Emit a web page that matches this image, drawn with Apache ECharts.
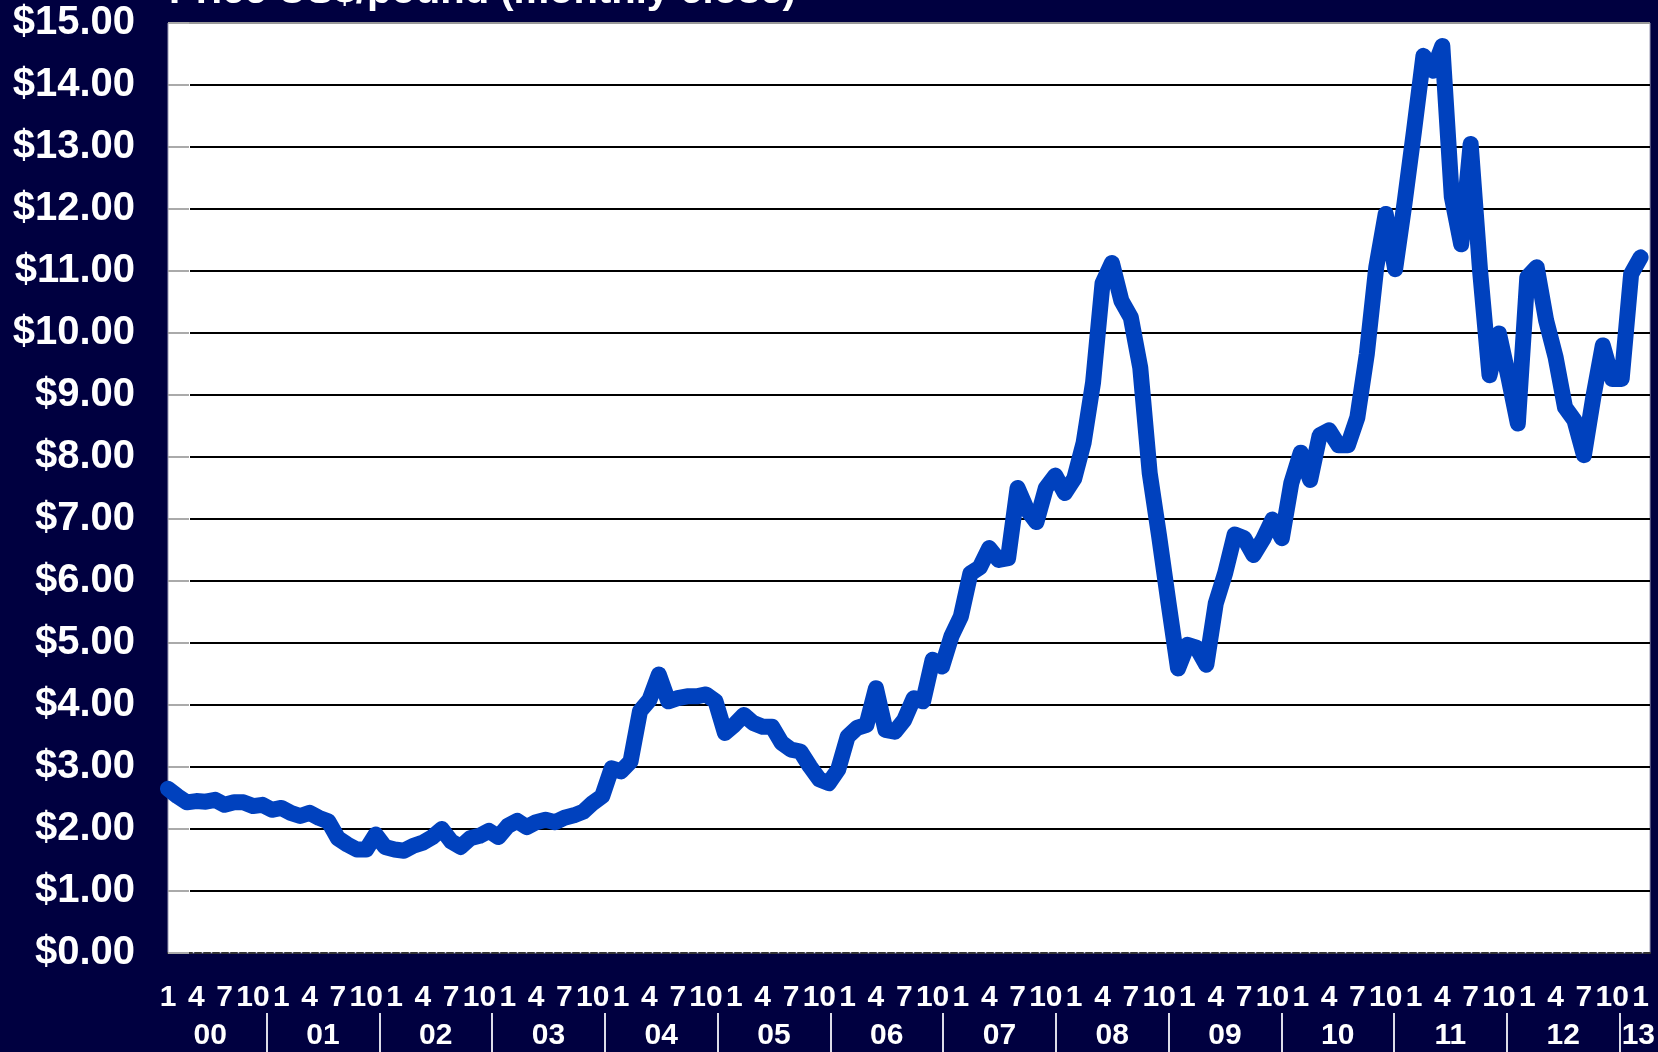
<!DOCTYPE html>
<html>
<head>
<meta charset="utf-8">
<script src="https://cdn.jsdelivr.net/npm/echarts@6/dist/echarts.min.js"></script>
<style>
  html, body { margin: 0; padding: 0; background: #000040; }
  #chart { width: 1658px; height: 1052px; }
</style>
</head>
<body>
<div id="chart"></div>
<script>
// monthly close, US$/pound, Jan 2000 .. Jan 2013
var monthValues = [
    2.65, 2.53, 2.43, 2.45, 2.44, 2.47, 2.39, 2.43, 2.43, 2.37, 2.39, 2.31,
    2.34, 2.26, 2.21, 2.26, 2.18, 2.12, 1.85, 1.75, 1.67, 1.67, 1.91, 1.71,
    1.67, 1.65, 1.73, 1.78, 1.87, 2.00, 1.80, 1.71, 1.85, 1.89, 1.97, 1.87,
    2.05, 2.13, 2.03, 2.11, 2.15, 2.11, 2.18, 2.22, 2.28, 2.42, 2.53, 2.98,
    2.93, 3.09, 3.90, 4.08, 4.49, 4.06, 4.11, 4.14, 4.14, 4.17, 4.06, 3.55,
    3.68, 3.84, 3.71, 3.65, 3.65, 3.39, 3.28, 3.25, 3.01, 2.80, 2.74, 2.96,
    3.49, 3.63, 3.68, 4.27, 3.60, 3.57, 3.76, 4.11, 4.06, 4.73, 4.62, 5.11,
    5.43, 6.12, 6.22, 6.53, 6.34, 6.37, 7.50, 7.15, 6.95, 7.50, 7.70, 7.42,
    7.65, 8.23, 9.20, 10.80, 11.13, 10.52, 10.25, 9.44, 7.74, 6.72, 5.64, 4.59,
    4.97, 4.92, 4.65, 5.64, 6.13, 6.75, 6.69, 6.42, 6.67, 6.99, 6.69, 7.58,
    8.07, 7.63, 8.35, 8.43, 8.19, 8.19, 8.64, 9.66, 11.06, 11.92, 11.03, 12.10,
    13.26, 14.47, 14.23, 14.63, 12.20, 11.43, 13.05, 11.00, 9.32, 9.99, 9.29, 8.54,
    10.90, 11.06, 10.20, 9.61, 8.80, 8.59, 8.03, 8.97, 9.80, 9.26, 9.26, 10.95,
    11.22
];
var monthTicks = ['1', '4', '7', '10'];
var yearLabels = ['00', '01', '02', '03', '04', '05', '06', '07', '08', '09', '10', '11', '12', '13'];
var yMin = 0, yMax = 15, yStep = 1;
var xMax = 157;

var FONT = '"Liberation Sans", Arial, sans-serif';

// year row: half-month category axis in its own strip under the month labels
function yearPos(k) {
    return Math.min(4.5 + 12 * k, xMax - 0.5);
}
var yearCats = [];
for (var h = 0; h <= xMax * 2; h++) {
    var p = h / 2, lab = '';
    for (var k = 0; k < yearLabels.length; k++) {
        if (yearPos(k) === p) lab = yearLabels[k];
    }
    yearCats.push(lab);
}

var chart = echarts.init(document.getElementById('chart'));
var option = {
    animation: false,
    backgroundColor: '#000040',
    title: {
        text: 'Price US$/pound (monthly close)',
        left: 164,
        top: -33,
        textStyle: { color: '#fff', fontSize: 40, fontWeight: 'bold', fontFamily: FONT }
    },
    grid: [{
        left: 168,
        right: 8,
        top: 23,
        bottom: 99,
        show: true,
        backgroundColor: '#fff',
        borderColor: '#9a9ab4',
        borderWidth: 1
    }, {
        left: 168,
        right: 8,
        top: 1013,
        height: 39,
        show: false
    }],
    graphic: [{
        type: 'rect',
        z: 1,
        shape: { x: 169, y: 25, width: 21, height: 926 },
        style: { fill: '#fff' }
    }],
    xAxis: [{
        type: 'value',
        gridIndex: 0,
        min: 0,
        max: xMax,
        interval: 3,
        position: 'bottom',
        axisLine: { show: true, lineStyle: { color: '#333', width: 2, type: [6, 3] } },
        axisTick: { show: false },
        splitLine: { show: false },
        axisLabel: {
            color: '#fff',
            fontSize: 30,
            fontWeight: 'bold',
            fontFamily: FONT,
            margin: 30,
            showMaxLabel: false,
            formatter: function(v) {
                if (v % 3 !== 0) return '';
                return monthTicks[(v % 12) / 3];
            }
        }
    }, {
        type: 'category',
        gridIndex: 1,
        data: yearCats,
        boundaryGap: false,
        position: 'top',
        axisLine: { show: false },
        axisTick: { show: false },
        axisLabel: {
            inside: true,
            color: '#fff',
            fontSize: 30,
            fontWeight: 'bold',
            fontFamily: FONT,
            margin: 8,
            interval: function(idx, val) { return val !== ''; }
        },
        splitLine: {
            show: true,
            interval: function(idx) {
                var p = idx / 2;
                return p >= 10.5 && (p - 10.5) % 12 === 0;
            },
            lineStyle: { color: '#dcdce8', width: 2 }
        }
    }],
    yAxis: [{
        type: 'value',
        gridIndex: 0,
        min: yMin,
        max: yMax,
        interval: yStep,
        axisLine: { show: false },
        axisTick: { show: false },
        axisLabel: {
            color: '#fff',
            fontSize: 40,
            fontWeight: 'bold',
            fontFamily: FONT,
            margin: 33,
            formatter: function(v) { return '$' + v.toFixed(2); }
        },
        splitLine: {
            show: true,
            lineStyle: {
                color: ['transparent', '#000', '#000', '#000', '#000', '#000', '#000', '#000',
                        '#000', '#000', '#000', '#000', '#000', '#000', '#000', '#999'],
                width: 2
            }
        }
    }, {
        type: 'value',
        gridIndex: 0,
        min: yMin,
        max: yMax,
        interval: yStep,
        position: 'left',
        z: 2,
        axisLine: { show: false },
        axisLabel: { show: false },
        splitLine: { show: false },
        axisTick: { show: true, inside: true, length: 21, lineStyle: { color: '#aaa', width: 2 } }
    }, {
        type: 'value',
        gridIndex: 1,
        min: 0,
        max: 1,
        axisLine: { show: false },
        axisTick: { show: false },
        axisLabel: { show: false },
        splitLine: { show: false }
    }],
    series: [{
        type: 'line',
        z: 3,
        xAxisIndex: 0,
        yAxisIndex: 0,
        clip: false,
        symbol: 'none',
        lineStyle: { color: '#0041BE', width: 16, cap: 'round', join: 'round' },
        data: monthValues.map(function(v, i) { return [i, v]; })
    }]
};
chart.setOption(option);
</script>
</body>
</html>
